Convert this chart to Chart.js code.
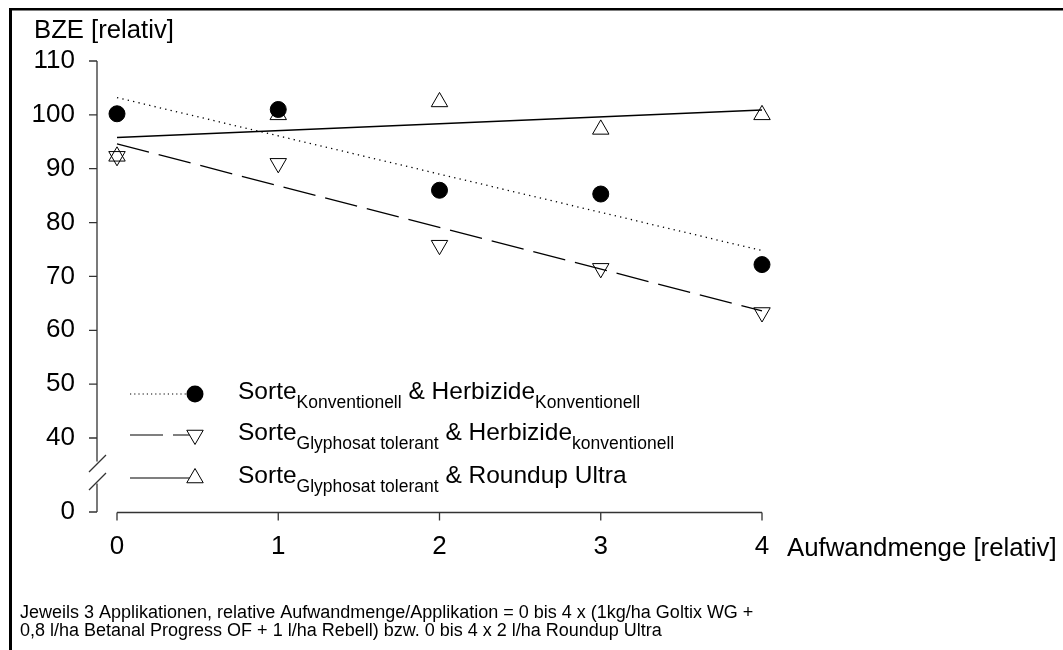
<!DOCTYPE html>
<html><head><meta charset="utf-8">
<script src="https://cdn.jsdelivr.net/npm/chart.js@4.4.1/dist/chart.umd.min.js"></script>
<style>html,body{margin:0;padding:0;background:#fff;}canvas{display:block;}</style>
</head><body>
<canvas id="c" width="1063" height="650"></canvas>
<script>
// ---- data ----
const xValues = [0, 1, 2, 3, 4];
const konvKonv = [100.2, 101.0, 86.0, 85.3, 72.2];      // filled circles
const glyKonv = [92.3, 91.0, 75.8, 71.5, 63.3];         // down triangles
const glyRoundup = [92.3, 100.0, 102.4, 97.3, 100.0];   // up triangles
const trendX = [0, 4];
const trendKonvKonv = [103.2, 74.8];
const trendGlyKonv = [94.6, 63.6];
const trendGlyRoundup = [95.8, 100.9];
const xTickValues = [0, 1, 2, 3, 4];
const xTickLabels = ['0', '1', '2', '3', '4'];
const yBreakValue = 26.26;   // where the "0" of the broken axis sits
const yTickValues = [yBreakValue, 40, 50, 60, 70, 80, 90, 100, 110];
const yTickLabels = ['0', '40', '50', '60', '70', '80', '90', '100', '110'];
const yTitle = 'BZE [relativ]';
const xTitle = 'Aufwandmenge [relativ]';
const legendRows = [
  [['Sorte', 0], ['Konventionell', 1], [' & Herbizide', 0], ['Konventionell', 1]],
  [['Sorte', 0], ['Glyphosat tolerant', 1], [' & Herbizide', 0], ['konventionell', 1]],
  [['Sorte', 0], ['Glyphosat tolerant', 1], [' & Roundup Ultra', 0]]
];
const footnote = [
  'Jeweils 3 Applikationen, relative Aufwandmenge/Applikation = 0 bis 4 x (1kg/ha Goltix WG +',
  '0,8 l/ha Betanal Progress OF + 1 l/ha Rebell) bzw. 0 bis 4 x 2 l/ha Roundup Ultra'
];

const FONT = "'Liberation Sans', Arial, sans-serif";
const pts = (ys) => xValues.map((x, i) => ({x, y: ys[i]}));
const line = (ys) => trendX.map((x, i) => ({x, y: ys[i]}));

const DOT = [1.3, 4.2], DASH = [33, 10];

const deco = {
  id: 'deco',
  beforeDatasetsDraw(chart) {
    const ctx = chart.ctx, xs = chart.scales.x, ys = chart.scales.y;
    ctx.save();
    ctx.strokeStyle = '#333'; ctx.lineWidth = 1.3; ctx.setLineDash([]);
    const ax = xs.getPixelForValue(0) - 20;
    const y40 = ys.getPixelForValue(40), y0 = ys.getPixelForValue(yBreakValue);
    const yTop = ys.getPixelForValue(110);
    const b1 = y40 + 25.5, b2 = y40 + 43.5;
    ctx.beginPath();
    ctx.moveTo(ax, yTop); ctx.lineTo(ax, b1 - 2);
    ctx.moveTo(ax, b2 + 2); ctx.lineTo(ax, y0);
    yTickValues.forEach(v => { const p = ys.getPixelForValue(v); ctx.moveTo(ax - 8, p); ctx.lineTo(ax, p); });
    ctx.stroke();
    ctx.beginPath();
    [b1, b2].forEach(c => { ctx.moveTo(ax - 8, c + 8.5); ctx.lineTo(ax + 9, c - 8.5); });
    ctx.stroke();
    // x axis
    const axY = y0 + 0.5;
    ctx.beginPath();
    ctx.moveTo(xs.getPixelForValue(0), axY); ctx.lineTo(xs.getPixelForValue(4), axY);
    xTickValues.forEach(v => { const p = xs.getPixelForValue(v); ctx.moveTo(p, axY); ctx.lineTo(p, axY + 8); });
    ctx.stroke();
    ctx.restore();
  },
  afterDraw(chart) {
    const ctx = chart.ctx;
    ctx.save();
    ctx.fillStyle = '#000';
    ctx.textBaseline = 'alphabetic';
    ctx.font = '25.7px ' + FONT;
    ctx.fillText(yTitle, 34, 38);
    ctx.font = '25.8px ' + FONT;
    ctx.fillText(xTitle, 787, 556);
    // legend
    const rowsY = [394, 435, 478];
    const styles = [
      {dash: [1.2, 3], shape: 'circle'},
      {dash: DASH, shape: 'down'},
      {dash: [], shape: 'up'}
    ];
    rowsY.forEach((ry, i) => {
      const st = styles[i];
      ctx.strokeStyle = '#000'; ctx.lineWidth = 1.2;
      ctx.setLineDash(st.dash);
      ctx.beginPath(); ctx.moveTo(130, ry); ctx.lineTo(190, ry); ctx.stroke();
      ctx.setLineDash([]);
      const cx = 195;
      ctx.beginPath();
      if (st.shape === 'circle') {
        ctx.arc(cx, ry, 8.5, 0, Math.PI * 2); ctx.fillStyle = '#000'; ctx.fill();
      } else {
        const r = 9.5, s = st.shape === 'up' ? 1 : -1;
        ctx.moveTo(cx, ry - s * r);
        ctx.lineTo(cx + r * 0.866, ry + s * r / 2);
        ctx.lineTo(cx - r * 0.866, ry + s * r / 2);
        ctx.closePath();
        ctx.fillStyle = '#fff'; ctx.fill(); ctx.lineWidth = 1; ctx.stroke();
      }
      ctx.fillStyle = '#000';
      let tx = 238; const base = ry + 5;
      legendRows[i].forEach(([t, sub]) => {
        ctx.font = (sub ? '17.5px ' : '24.5px ') + FONT;
        ctx.fillText(t, tx, sub ? base + 9 : base);
        tx += ctx.measureText(t).width;
      });
    });
    // footnote
    ctx.font = '18px ' + FONT;
    ctx.fillText(footnote[0], 20, 618);
    ctx.fillText(footnote[1], 20, 636);
    // frame
    ctx.fillStyle = '#000';
    ctx.fillRect(9, 8, 1063, 2.5);
    ctx.fillRect(9, 8, 3, 650);
    ctx.restore();
  }
};

new Chart(document.getElementById('c'), {
  type: 'scatter',
  data: {
    datasets: [
      {label: 'konvKonv', data: pts(konvKonv), pointStyle: 'circle', pointRadius: 8, pointHoverRadius: 8,
       backgroundColor: '#000', borderColor: '#000', borderWidth: 1, clip: false},
      {label: 'glyRoundup', data: pts(glyRoundup), pointStyle: 'triangle', pointRadius: 9.5, pointHoverRadius: 9.5,
       backgroundColor: 'rgba(255,255,255,0)', borderColor: '#000', borderWidth: 1, clip: false},
      {label: 'glyKonv', data: pts(glyKonv), pointStyle: 'triangle', rotation: 180, pointRotation: 180,
       pointRadius: 9.5, pointHoverRadius: 9.5,
       backgroundColor: 'rgba(255,255,255,0)', borderColor: '#000', borderWidth: 1, clip: false},
      {label: 'trendKonvKonv', data: line(trendKonvKonv), showLine: true, pointRadius: 0, borderColor: '#000',
       borderWidth: 1.3, borderDash: DOT, clip: false},
      {label: 'trendGlyKonv', data: line(trendGlyKonv), showLine: true, pointRadius: 0, borderColor: '#000',
       borderWidth: 1.3, borderDash: DASH, clip: false},
      {label: 'trendGlyRoundup', data: line(trendGlyRoundup), showLine: true, pointRadius: 0, borderColor: '#000',
       borderWidth: 1.5, clip: false}
    ]
  },
  options: {
    responsive: false, animation: false, devicePixelRatio: 1,
    layout: {padding: {top: 61, right: 301, left: 0, bottom: 0}},
    plugins: {legend: {display: false}, tooltip: {enabled: false}, title: {display: false}},
    scales: {
      x: {
        type: 'linear', min: 0, max: 4,
        grid: {display: false, drawTicks: false}, border: {display: false},
        afterBuildTicks: s => { s.ticks = xTickValues.map(v => ({value: v})); },
        afterFit: s => { s.height = 138; },
        ticks: {padding: 19, color: '#000', font: {family: FONT, size: 26},
          maxRotation: 0, autoSkip: false,
          callback: (v) => xTickLabels[xTickValues.indexOf(v)]}
      },
      y: {
        type: 'linear', min: yBreakValue, max: 110,
        grid: {display: false, drawTicks: false}, border: {display: false},
        afterBuildTicks: s => { s.ticks = yTickValues.map(v => ({value: v})); },
        afterFit: s => { s.width = 117; },
        ticks: {padding: 42, color: '#000', font: {family: FONT, size: 26}, autoSkip: false,
          callback: (v) => yTickLabels[yTickValues.indexOf(v)]}
      }
    }
  },
  plugins: [deco]
});
</script>
</body></html>
